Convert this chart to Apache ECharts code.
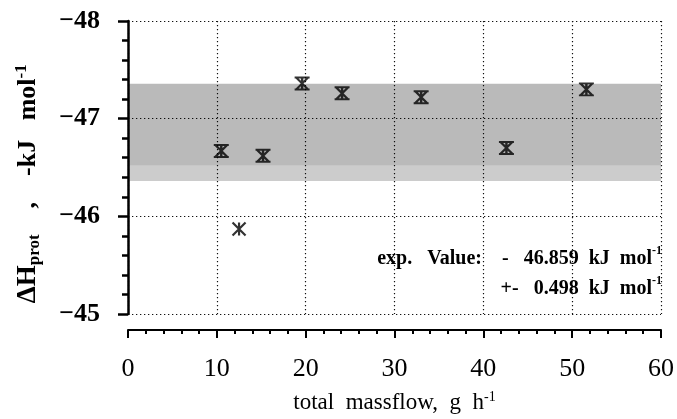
<!DOCTYPE html>
<html>
<head>
<meta charset="utf-8">
<script src="https://cdn.jsdelivr.net/npm/echarts@6/dist/echarts.min.js"></script>
<style>
html,body{margin:0;padding:0;background:#fff;}
#chart{width:677px;height:419px;}
</style>
</head>
<body>
<div id="chart"></div>
<script>
// ---- data ----
var massflow = [10.5, 12.5, 15.2, 19.6, 24.1, 33.0, 42.6, 51.6];
var deltaH   = [-46.67, -45.87, -46.62, -47.36, -47.26, -47.22, -46.70, -47.30];
var hasErrorBar = [true, false, true, true, true, true, true, true];
var expValue = -46.859;
var expError = 0.498;
var bandSplit = -46.52;           // texture change inside the band
var xTicks = [0, 10, 20, 30, 40, 50, 60];
var yTicks = [-48, -47, -46, -45];

var FONT = '"Liberation Serif", "DejaVu Serif", serif';
var capped = 'path://M0 0L10 0M0 10L10 10M1 0L9 10M9 0L1 10M5 0L5 10';
var star = 'path://M0 0L10 10M10 0L0 10M5 0L5 10';

var pts = massflow.map(function (x, i) {
  return {
    value: [x, deltaH[i]],
    symbol: hasErrorBar[i] ? capped : star,
    symbolSize: hasErrorBar[i] ? [15, 12] : [13, 13]
  };
});

var grid = {left: 128, right: 14, top: 21, bottom: 95, show: false};
var dotted = {show: true, lineStyle: {color: '#111', width: 1.2, type: [1.3, 2.7]}};

var legRich = {
  t: {fontFamily: FONT, fontSize: 20, fontWeight: 'bold', fill: '#000', lineHeight: 24, verticalAlign: 'bottom'},
  sup: {fontFamily: FONT, fontSize: 12, fontWeight: 'bold', fill: '#000', lineHeight: 24, verticalAlign: 'top'}
};

var option = {
  animation: false,
  backgroundColor: '#fff',
  grid: grid,
  xAxis: {
    type: 'value', min: xTicks[0], max: xTicks[xTicks.length - 1], interval: 10,
    offset: 16,
    axisLine: {show: true, lineStyle: {color: '#000', width: 2}},
    axisTick: {show: true, length: 8, lineStyle: {color: '#000', width: 2}},
    minorTick: {show: true, splitNumber: 5, length: 4, lineStyle: {color: '#000', width: 2}},
    axisLabel: {color: '#000', fontFamily: FONT, fontSize: 26, margin: 26},
    splitLine: dotted,
    name: '{t|total  massflow,  g  h}{sup|-1}',
    nameLocation: 'middle', nameGap: 60,
    nameTextStyle: {
      rich: {
        t: {fontFamily: FONT, fontSize: 23, color: '#000', lineHeight: 24, verticalAlign: 'bottom'},
        sup: {fontFamily: FONT, fontSize: 14, color: '#000', lineHeight: 24, verticalAlign: 'top'}
      }
    }
  },
  yAxis: {
    type: 'value', min: yTicks[0], max: yTicks[yTicks.length - 1], interval: 1,
    inverse: true, offset: 13,
    axisLine: {show: true, lineStyle: {color: '#000', width: 2.5}},
    axisTick: {show: true, length: 10, lineStyle: {color: '#000', width: 2.5}},
    minorTick: {show: true, splitNumber: 5, length: 6, lineStyle: {color: '#000', width: 2.5}},
    axisLabel: {
      color: '#000', fontFamily: FONT, fontSize: 26, fontWeight: 'bold', margin: 15,
      formatter: function (v) { return (v < 0 ? '\u2212' : '') + Math.abs(v); }
    },
    splitLine: dotted,
    name: '{b|\u0394H}{sub|prot}{n|    ,    -kJ   mol}{sup|-1}{n|     }',
    nameLocation: 'middle', nameRotate: 90, nameGap: 72,
    nameTextStyle: {
      rich: {
        b: {fontFamily: FONT, fontSize: 27, fontWeight: 'bold', color: '#000', lineHeight: 30, verticalAlign: 'middle'},
        n: {fontFamily: FONT, fontSize: 26, fontWeight: 'bold', color: '#000', lineHeight: 30, verticalAlign: 'middle'},
        sub: {fontFamily: FONT, fontSize: 17, fontWeight: 'bold', color: '#000', lineHeight: 30, verticalAlign: 'bottom'},
        sup: {fontFamily: FONT, fontSize: 17, fontWeight: 'bold', color: '#000', lineHeight: 30, verticalAlign: 'top'}
      }
    }
  },
  graphic: [
    {
      type: 'text', x: 662, y: 257,
      style: {
        text: '{t|exp.   Value:    -   ' + Math.abs(expValue).toFixed(3) + '  kJ  mol}{sup|-1}',
        align: 'right', verticalAlign: 'middle',
        rich: legRich
      }
    },
    {
      type: 'text', x: 662, y: 287,
      style: {
        text: '{t|+-   ' + expError.toFixed(3) + '  kJ  mol}{sup|-1}',
        align: 'right', verticalAlign: 'middle',
        rich: legRich
      }
    }
  ],
  series: [{
    type: 'scatter',
    data: pts,
    itemStyle: {color: 'rgba(0,0,0,0)', borderColor: '#000', borderWidth: 2.2},
    z: 5,
    markArea: {
      silent: true,
      data: [
        [{yAxis: expValue - expError, itemStyle: {color: 'rgba(0,0,0,0.27)'}}, {yAxis: bandSplit}],
        [{yAxis: bandSplit, itemStyle: {color: 'rgba(0,0,0,0.2)'}}, {yAxis: expValue + expError}]
      ]
    }
  }]
};

var chart = echarts.init(document.getElementById('chart'), null, {renderer: 'canvas'});
chart.setOption(option);
</script>
</body>
</html>
